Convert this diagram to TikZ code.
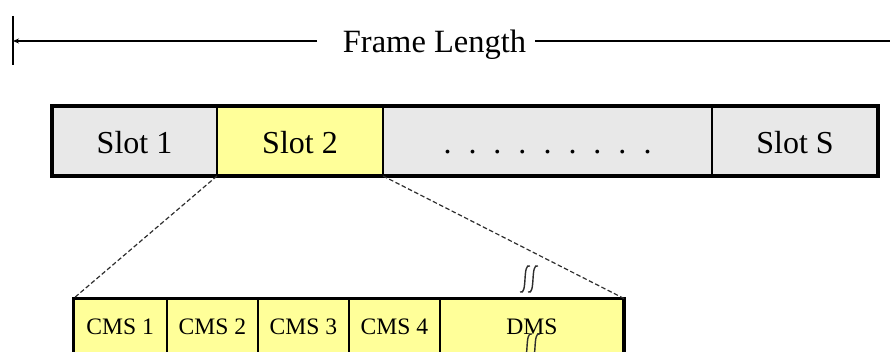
\documentclass[tikz,border=0pt]{standalone}
\usepackage{fontspec}
\setmainfont{Liberation Serif}
\usetikzlibrary{arrows.meta}
\definecolor{slotgray}{HTML}{E8E8E8}
\definecolor{slotyellow}{HTML}{FFFF99}
\definecolor{guide}{HTML}{2E2E2E}
\newcommand\dotgap{\hspace{17pt}}
\begin{document}
\begin{tikzpicture}[x=1pt,y=-1pt,
  slotcell/.style={draw=black, line width=1.3pt, inner sep=0pt, outer sep=0pt,
    minimum height=70pt, text height=26pt, text depth=0pt,
    font=\fontsize{32}{36}\selectfont},
  subcell/.style={draw=black, line width=1.3pt, fill=slotyellow, inner sep=0pt, outer sep=0pt,
    minimum height=56pt, font=\fontsize{23.6}{28}\selectfont},
  frameline/.style={line width=1.4pt, black},
  outline/.style={line width=3.4pt, black},
  zoomline/.style={guide, line width=1.2pt, dash pattern=on 4.5pt off 2.5pt},
  brk/.pic={
    \draw[guide, line width=1.4pt] (-9,13) .. controls (-1,17) and (-7,-17) .. (1,-13);
    \draw[guide, line width=1.4pt] (-1,13) .. controls (7,17) and (1,-17) .. (9,-13);
  }]
\clip (0,0) rectangle (890,352);

% frame length dimension line
\coordinate (tickT) at (13,16);
\coordinate (tickB) at (13,65);
\coordinate (tick) at (13,41);
\coordinate (gapL) at (317,41);
\coordinate (gapR) at (535,41);
\coordinate (frameEnd) at (895,41);
\node[anchor=base, inner sep=0pt, font=\fontsize{32.5}{36}\selectfont] (fl) at (434.5,53) {Frame Length};
\draw[frameline] (tickT) -- (tickB);
\draw[frameline, -{Stealth[length=6pt,width=5pt]}] (gapL) -- (tick);
\draw[frameline] (gapR) -- (frameEnd);

% slots of the frame
\node[slotcell, fill=slotgray,   minimum width=165pt] (s1) at (134.5,141) {Slot 1};
\node[slotcell, fill=slotyellow, minimum width=166pt] (s2) at (300,141) {Slot 2};
\node[slotcell, fill=slotgray,   minimum width=329pt] (sd) at (547.5,141)
  {.\dotgap.\dotgap.\dotgap.\dotgap.\dotgap.\dotgap.\dotgap.\dotgap.};
\node[slotcell, fill=slotgray,   minimum width=166pt] (sS) at (795,141) {Slot S};
\draw[outline] (s1.north west) rectangle (sS.south east);

% mini-slots of slot 2
\node[subcell, minimum width=93.5pt] (c1) at (120.25,326.5) {CMS 1};
\node[subcell, minimum width=91pt]   (c2) at (212.5,326.5) {CMS 2};
\node[subcell, minimum width=91pt]   (c3) at (303.5,326.5) {CMS 3};
\node[subcell, minimum width=91pt]   (c4) at (394.5,326.5) {CMS 4};
\node[subcell, minimum width=184pt]  (dms) at (532,326.5) {DMS};
\draw[outline] (c1.south west) |- (dms.north east) -- (dms.south east);

% zoom lines from slot 2
\draw[zoomline] (s2.south west) -- (c1.north west);
\draw[zoomline] (s2.south east) -- (dms.north east);

% break marks
\pic at (529,279) {brk};
\pic at (531,347) {brk};
\end{tikzpicture}
\end{document}
